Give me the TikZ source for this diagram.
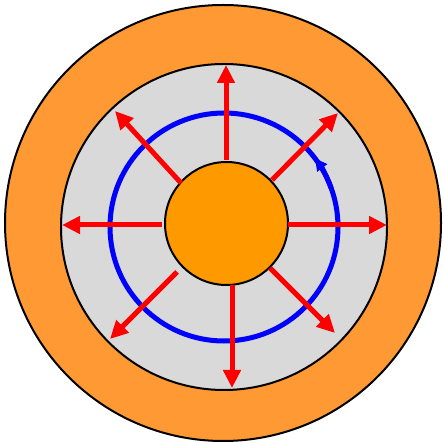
\documentclass[tikz,border=0pt]{standalone}
\usepackage{xcolor}
\usetikzlibrary{arrows.meta}
\definecolor{rimorange}{HTML}{FF9933}
\definecolor{coreorange}{HTML}{FF9900}
\definecolor{fieldgray}{HTML}{D9D9D9}

\tikzset{
  disc/.style={circle, draw=black, line width=0.6mm, inner sep=0pt, outer sep=0pt},
  ray/.style={draw=red, line width=1.5mm, -{Triangle[length=5.4mm, width=5.1mm]}},
  orbitline/.style={draw=blue, line width=1.5mm}
}

\begin{document}
\begin{tikzpicture}[x=0.3mm, y=0.3mm]
  \useasboundingbox (0,0) rectangle (444,442);
  \node[disc, fill=rimorange, minimum size=130.8mm] (rim) at (223,219) {};
  \node[disc, fill=fieldgray, minimum size=97.8mm] (field) at (224,215) {};
  \node[circle, orbitline, minimum size=68.4mm, inner sep=0pt, outer sep=0pt] (orbit) at (224,215) {};
  \draw[orbitline, -{Triangle[length=3.6mm, width=3.6mm]}] (orbit.20) arc[start angle=20, end angle=37, radius=34.2mm];
  \node[disc, fill=coreorange, minimum size=36.9mm] (core) at (226.5,218.5) {};
  % field lines, start -> tip
  \coordinate (n0) at (226,282);  \coordinate (n1) at (226,377);
  \coordinate (s0) at (232,157);  \coordinate (s1) at (232,54);
  \coordinate (w0) at (162,217);  \coordinate (w1) at (62,217);
  \coordinate (e0) at (288,217);  \coordinate (e1) at (387,217);
  \coordinate (ne0) at (272,262); \coordinate (ne1) at (338,329);
  \coordinate (nw0) at (181,259); \coordinate (nw1) at (115,331);
  \coordinate (se0) at (270,174); \coordinate (se1) at (335,109);
  \coordinate (sw0) at (177,170); \coordinate (sw1) at (110,103);
  \foreach \d in {n,s,w,e,ne,nw,se,sw}
    \draw[ray] (\d0) -- (\d1);
\end{tikzpicture}
\end{document}
